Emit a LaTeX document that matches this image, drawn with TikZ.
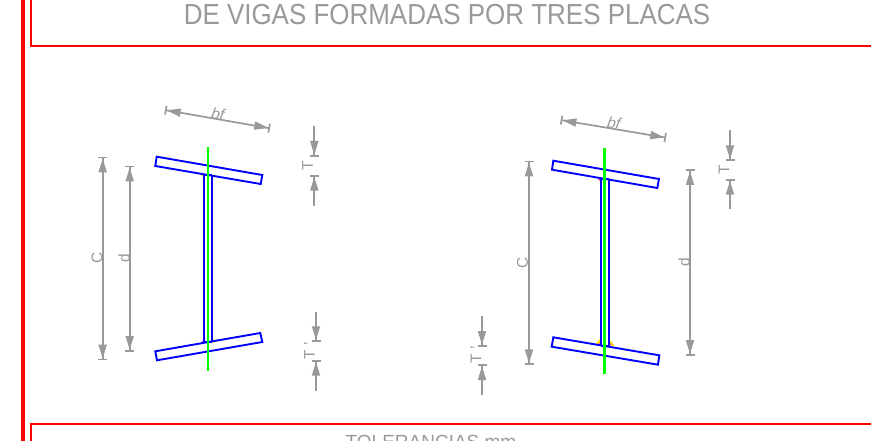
\documentclass[tikz,border=0pt]{standalone}
\usepackage{fontspec}
\setmainfont{Liberation Sans}
\usetikzlibrary{arrows.meta}
\definecolor{dimgray}{HTML}{999999}
\definecolor{weldy}{HTML}{FFE000}
\definecolor{weldm}{HTML}{FF40C0}
\tikzset{
  frameline/.style={draw=red,line width=1.7pt},
  rail/.style={draw=red,line width=4pt},
  plate/.style={draw=blue,line width=1.9pt,line join=miter},
  axisline/.style={draw=green,line width=2.2pt},
  dimboth/.style={draw=dimgray,line width=1.7pt,{Bar[width=9pt,length=1.5pt,sep=0pt]Triangle[length=14pt,width=8pt,sep=0pt]}-{Triangle[length=14pt,width=8pt,sep=0pt]Bar[width=9pt,length=1.5pt,sep=0pt]}},
  dimone/.style={draw=dimgray,line width=1.7pt,-{Triangle[length=14pt,width=8pt,sep=0pt]Bar[width=9pt,length=1.5pt,sep=0pt]}},
  dimtext/.style={text=dimgray,font=\fontsize{15.5}{15.5}\selectfont,inner sep=0pt},
  dimital/.style={dimtext,font=\fontsize{15.5}{15.5}\selectfont\itshape},
  titletext/.style={text=dimgray,font=\fontsize{29}{29}\selectfont,inner sep=0pt,anchor=base,xscale=0.895},
  subtext/.style={text=dimgray,font=\fontsize{19}{19}\selectfont,inner sep=0pt,anchor=base},
  weldA/.style={fill=weldy,draw=none},
  weldB/.style={fill=weldm,draw=none},
}
\begin{document}
\begin{tikzpicture}[x=1pt,y=-1pt]
\useasboundingbox (0,0) rectangle (871,441);
\clip (0,0) rectangle (871,441);
% frames
\draw[rail] (23,0) -- (23,441);
\draw[frameline] (31,-5) -- (31,46) -- (880,46);
\draw[frameline] (31,450) -- (31,424) -- (880,424);
\node[titletext] (title) at (447,24.5) {DE VIGAS FORMADAS POR TRES PLACAS};
\node[subtext] (tol) at (431,448.5) {TOLERANCIAS mm};
% left section: welds
\fill[weldA] (201,175) -- (205,175) -- (205,179) -- cycle;
\fill[weldA] (211,175) -- (216,175) -- (211,179) -- cycle;
\fill[weldB] (199.5,344) -- (205,343) -- (205,338) -- cycle;
\fill[weldA] (211,343) -- (216.5,342) -- (211,338) -- cycle;
% left section: plates
\draw[plate] (156.7,156.7) -- (262.3,175) -- (260.7,184) -- (155.3,166) -- cycle;
\draw[plate] (155.3,351.3) -- (260.3,333) -- (262.3,342) -- (157,360.3) -- cycle;
\draw[plate] (204,174.5) -- (204,342);
\draw[plate] (212.3,175.5) -- (212.3,341);
\draw[plate] (204,175) -- (212.3,175);
\draw[plate] (204,342) -- (212.3,342);
\draw[axisline] (208,146.7) -- (208,370.7);
% left section: dimensions
\coordinate (bfa) at (165,110); \coordinate (bfb) at (270,128.3);
\draw[dimboth] (bfa) -- (bfb);
\node[dimital,rotate=-10] (bflab) at (218,114) {bf};
\coordinate (ca) at (102.7,156.7); \coordinate (cb) at (102.7,360.3);
\draw[dimboth] (ca) -- (cb);
\node[dimtext,rotate=90] (clab) at (97,258) {C};
\coordinate (da) at (129.7,165.7); \coordinate (db) at (129.7,351.7);
\draw[dimboth] (da) -- (db);
\node[dimtext,rotate=90] (dlab) at (124,258) {d};
\coordinate (ta) at (314.3,126); \coordinate (tb) at (314.3,156.7);
\coordinate (tc) at (314.3,205.7); \coordinate (td) at (314.3,175);
\draw[dimone] (ta) -- (tb);
\draw[dimone] (tc) -- (td);
\node[dimtext,rotate=90] (tlab) at (307.5,166) {T};
\coordinate (pa) at (316,311.7); \coordinate (pb) at (316,342);
\coordinate (pc) at (316,391); \coordinate (pd) at (316,360);
\draw[dimone] (pa) -- (pb);
\draw[dimone] (pc) -- (pd);
\node[dimtext,rotate=90] (plab) at (309.5,351) {T '};
% right section: welds
\fill[weldA] (595.5,344) -- (600.7,345) -- (600.7,338) -- cycle;
\fill[weldA] (609.3,345) -- (615,346.5) -- (609.3,339) -- cycle;
\fill[weldB] (598,344.5) -- (600.7,345) -- (600.7,342) -- cycle;
\fill[weldB] (609.3,345) -- (612,345.5) -- (609.3,342) -- cycle;
\fill[weldB] (597,178) -- (600.7,178) -- (600.7,182) -- cycle;
\fill[weldB] (609.3,179) -- (612.5,179) -- (609.3,182) -- cycle;
% right section: plates
\draw[plate] (553.3,160.7) -- (659,179) -- (657.3,188) -- (552,169.7) -- cycle;
\draw[plate] (553.3,337.3) -- (659.3,355.3) -- (658,364.7) -- (551.7,346.7) -- cycle;
\draw[plate] (600.7,178.5) -- (600.7,345.5);
\draw[plate] (609.3,179.5) -- (609.3,346.5);
\draw[plate] (600.7,179) -- (609.3,179);
\draw[plate] (600.7,346) -- (609.3,346);
\draw[axisline,line width=3pt] (604.7,148) -- (604.7,374);
% right section: dimensions
\coordinate (rbfa) at (560.7,120); \coordinate (rbfb) at (666,137.7);
\draw[dimboth] (rbfa) -- (rbfb);
\node[dimital,rotate=-10] (rbflab) at (614,123) {bf};
\coordinate (rca) at (529,160.7); \coordinate (rcb) at (529,365);
\draw[dimboth] (rca) -- (rcb);
\node[dimtext,rotate=90] (rclab) at (522.5,263) {C};
\coordinate (rda) at (690,169.3); \coordinate (rdb) at (690,355.7);
\draw[dimboth] (rda) -- (rdb);
\node[dimtext,rotate=90] (rdlab) at (684,262) {d};
\coordinate (rta) at (730,130); \coordinate (rtb) at (730,161);
\coordinate (rtc) at (730,209.3); \coordinate (rtd) at (730,179);
\draw[dimone] (rta) -- (rtb);
\draw[dimone] (rtc) -- (rtd);
\node[dimtext,rotate=90] (rtlab) at (724,170) {T};
\coordinate (rpa) at (482,315.7); \coordinate (rpb) at (482,346.7);
\coordinate (rpc) at (482,395); \coordinate (rpd) at (482,364.3);
\draw[dimone] (rpa) -- (rpb);
\draw[dimone] (rpc) -- (rpd);
\node[dimtext,rotate=90] (rplab) at (476,355) {T '};
\end{tikzpicture}
\end{document}
